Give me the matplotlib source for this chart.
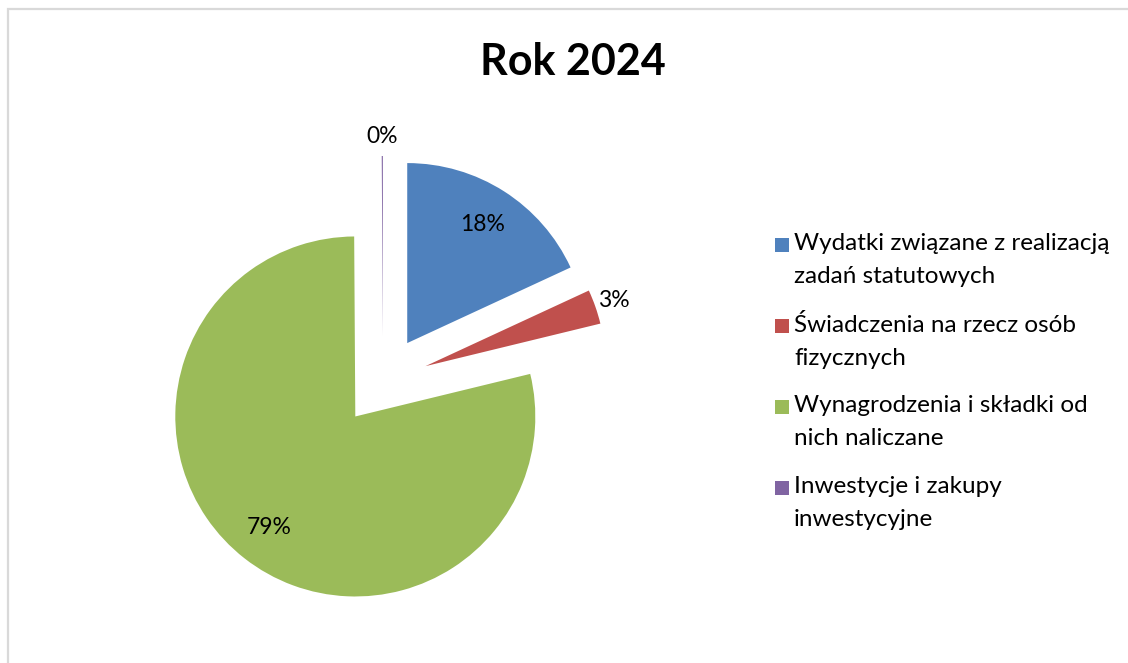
import matplotlib
matplotlib.use("Agg")
import matplotlib.pyplot as plt
import matplotlib.patches as mpatches
import numpy as np

# dane wykresu
kategorie = ["Wydatki związane z realizacją\nzadań statutowych",
             "Świadczenia na rzecz osób\nfizycznych",
             "Wynagrodzenia i składki od\nnich naliczane",
             "Inwestycje i zakupy\ninwestycyjne"]
udzialy = [18.1, 3.1, 78.7, 0.1]
kolory = ["#4F81BD", "#C0504D", "#9BBB59", "#8064A2"]
tytul = "Rok 2024"

plt.rcParams['font.family'] = ['Lato', 'DejaVu Sans']

W, H = 1128, 663
fig = plt.figure(figsize=(W / 100, H / 100), dpi=100)
ax = fig.add_axes([0, 0, 1, 1])

# ramka wykresu (jak w Excelu)
fig.patches.append(mpatches.Rectangle((8, -10), W + 20, H - 9 + 10, transform=None,
                                      fill=False, edgecolor="#d9d9d9", linewidth=1.6))

srodek = (383, H - 381)
promien = 180
wysun = [45] * len(udzialy)

wedges, texts = ax.pie(udzialy, colors=kolory, startangle=90, counterclock=False,
                       center=srodek, radius=promien, explode=wysun, frame=True)

# etykiety procentowe
for w, v in zip(wedges, udzialy):
    kat = np.deg2rad((w.theta1 + w.theta2) / 2)
    d = 0.78 if v > 10 else 1.11
    x = w.center[0] + d * w.r * np.cos(kat)
    y = w.center[1] + d * w.r * np.sin(kat)
    ax.text(x, y, f"{v:.0f}%", ha="center", va="center", fontsize=16.5, color="black")

ax.set_xlim(0, W)
ax.set_ylim(0, H)
ax.set_aspect("equal")
ax.axis("off")

fig.text(573 / W, 1 - 62 / H, tytul, ha="center", va="center", fontsize=31,
         fontweight="bold")

# legenda rysowana recznie - kwadrat przy pierwszej linii
for i, (w, nazwa) in enumerate(zip(wedges, kategorie)):
    y0 = 238 + 81 * i
    fig.patches.append(mpatches.Rectangle((775, H - y0 - 14), 14, 14, transform=None,
                                          facecolor=w.get_facecolor(), edgecolor="none"))
    fig.text(794 / W, 1 - (y0 - 5) / H, nazwa, ha="left", va="top", fontsize=17.5,
             linespacing=1.72)

fig.savefig("out.png", dpi=100)
